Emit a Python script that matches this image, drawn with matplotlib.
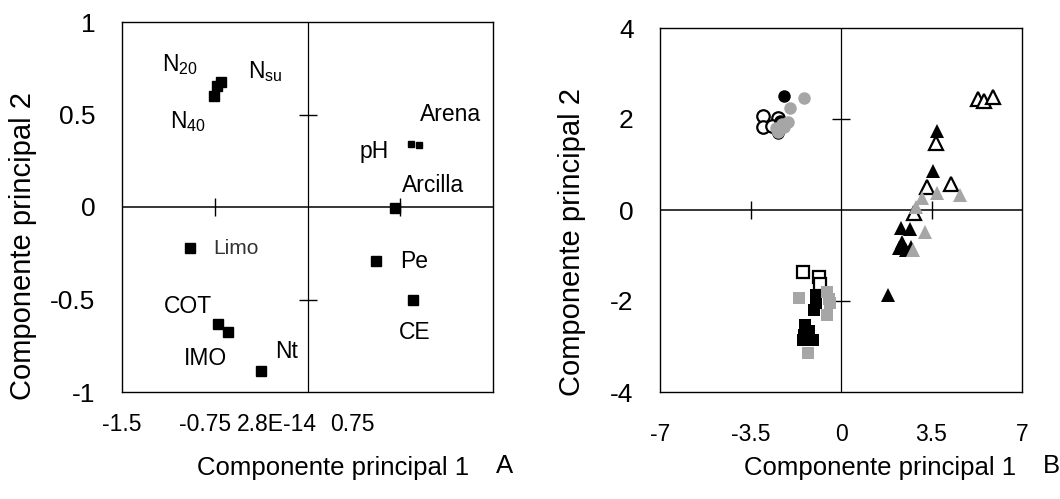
import matplotlib
matplotlib.use("Agg")
import matplotlib.pyplot as plt
import matplotlib.transforms as mtransforms

plt.rcParams['font.family'] = ['Liberation Sans', 'DejaVu Sans']
plt.rcParams['mathtext.fontset'] = 'custom'
plt.rcParams['mathtext.rm'] = 'Liberation Sans'

# ---------------- Panel A data (variable loadings) ----------------
var_names = ['N$_\\mathregular{20}$', 'N$_\\mathregular{su}$', 'N$_\\mathregular{40}$',
             'Arena', 'pH', 'Arcilla', 'Limo', 'Pe', 'CE', 'COT', 'IMO', 'Nt']
var_pc1 = [-0.73, -0.70, -0.76, 0.905, 0.84, 0.71, -0.95, 0.555, 0.85, -0.72, -0.64, -0.377]
var_pc2 = [0.654, 0.677, 0.60, 0.335, 0.339, -0.007, -0.22, -0.29, -0.50, -0.632, -0.674, -0.885]
small_marker = [False, False, False, True, True, False, False, False, False, False, False, False]

a_xticks = [-1.5, -0.75, 0.0, 0.75]
a_xticklabels = ['-1.5', '-0.75', '2.8E-14', '0.75']
a_yticks = [-1, -0.5, 0, 0.5, 1]
a_yticklabels = ['-1', '-0.5', '0', '0.5', '1']

# ---------------- Panel B data (sample scores) ----------------
circ_open_x = [-3.02, -3.00, -2.42, -2.65]
circ_open_y = [2.07, 1.83, 2.03, 1.85]
circ_black_x = [-2.22, -2.42, -2.35]
circ_black_y = [2.51, 1.70, 1.95]
circ_gray_x = [-1.42, -1.96, -2.30, -2.05, -2.45, -2.20, -2.50]
circ_gray_y = [2.47, 2.25, 1.88, 1.93, 1.72, 1.82, 1.80]

sq_open_x = [-1.46, -0.86, -0.80]
sq_open_y = [-1.37, -1.48, -1.62]
sq_black_x = [-0.97, -0.95, -1.05, -1.40, -1.42, -1.48, -1.10, -1.25]
sq_black_y = [-1.87, -2.05, -2.20, -2.53, -2.75, -2.85, -2.85, -2.65]
sq_gray_x = [-1.61, -0.55, -0.41, -0.53, -1.29, -0.45]
sq_gray_y = [-1.94, -1.80, -2.05, -2.31, -3.15, -1.95]

tri_open_x = [5.28, 5.52, 5.86, 3.67, 3.33, 4.25, 2.83]
tri_open_y = [2.43, 2.40, 2.48, 1.47, 0.51, 0.57, -0.07]
tri_black_x = [3.71, 3.57, 2.32, 2.68, 2.35, 2.26, 2.51, 2.71, 1.83]
tri_black_y = [1.74, 0.86, -0.39, -0.42, -0.70, -0.84, -0.88, -0.81, -1.87]
tri_gray_x = [3.71, 4.61, 3.12, 2.90, 3.26, 2.77]
tri_gray_y = [0.38, 0.34, 0.27, 0.07, -0.48, -0.88]

b_xticks = [-7, -3.5, 0, 3.5, 7]
b_xticklabels = ['-7', '-3.5', '0', '3.5', '7']
b_yticks = [-4, -2, 0, 2, 4]
b_yticklabels = ['-4', '-2', '0', '2', '4']

# label offsets (pixels) for panel A annotations
label_offsets = [(-37, 21), (44, 10), (-26, -26), (31, 31), (-37, -7), (38, 23),
                 (46, -1), (38, -1), (2, -33), (-31, 17), (-23, -27), (26, 19)]
# x tick label horizontal shifts in panel A (pixels)
a_label_shift = [0, -10, -31, -48]

GRAY = '#a6a6a6'
W, H = 1060, 499
fig = plt.figure(figsize=(W / 100, H / 100), dpi=100)

axA = fig.add_axes([122 / W, 1 - 392 / H, 371 / W, 370 / H])
axB = fig.add_axes([660 / W, 1 - 392 / H, 362 / W, 364 / H])


def setup(ax, xlim, ylim, xt, xtl, yt, ytl, xpad, ypad, xcross, ycross):
    ax.set_xlim(*xlim)
    ax.set_ylim(*ylim)
    ax.set_xticks(xt)
    ax.set_xticklabels(xtl)
    ax.set_yticks(yt)
    ax.set_yticklabels(ytl)
    ax.tick_params(axis='x', length=0, pad=xpad, labelsize=16.5)
    ax.tick_params(axis='y', length=0, pad=ypad, labelsize=19)
    for s in ax.spines.values():
        s.set_linewidth(1.0)
        s.set_color('black')
    ax.axhline(0, color='black', lw=1.1, zorder=1)
    ax.axvline(0, color='black', lw=0.9, zorder=1)
    # cross tick marks on the internal axes
    ax.plot(xcross, [0] * len(xcross), ls='none', marker='|', ms=13, mew=1.0,
            color='black', zorder=1)
    ax.plot([0] * len(ycross), ycross, ls='none', marker='_', ms=13, mew=1.0,
            color='black', zorder=1)


setup(axA, (-1.5, 1.5), (-1, 1), a_xticks, a_xticklabels, a_yticks, a_yticklabels,
      15, 19, [-0.75, 0.75], [-0.5, 0.5])
setup(axB, (-7, 7), (-4, 4), b_xticks, b_xticklabels, b_yticks, b_yticklabels,
      22, 19, [-3.5, 3.5], [-2, 2])

# shift A x tick labels
for lab, dx in zip(axA.get_xticklabels(), a_label_shift):
    off = mtransforms.ScaledTranslation(dx / 100, 0, fig.dpi_scale_trans)
    lab.set_transform(lab.get_transform() + off)

# Panel A points
for x, y, sm, name, (dx, dy) in zip(var_pc1, var_pc2, small_marker, var_names, label_offsets):
    axA.plot([x], [y], marker='s', ms=4 if sm else 7, color='black', ls='none', zorder=3)
    if name == 'Limo':
        col, fs = '#333333', 15
    else:
        col, fs = 'black', 16.5
    axA.annotate(name, (x, y), xytext=(dx, dy), textcoords='offset pixels',
                 ha='center', va='center', fontsize=fs, color=col)

# Panel B points
ms_b = 9
ms_t = 10.5
axB.plot(circ_open_x, circ_open_y, 'o', ms=ms_b, mfc='white', mec='black', mew=1.6, zorder=3)
axB.plot(sq_open_x, sq_open_y, 's', ms=ms_b, mfc='white', mec='black', mew=1.6, zorder=3)
axB.plot(tri_open_x, tri_open_y, '^', ms=ms_t, mfc='white', mec='black', mew=1.6, zorder=3)
axB.plot(circ_black_x, circ_black_y, 'o', ms=ms_b, color='black', mew=0, zorder=4)
axB.plot(sq_black_x, sq_black_y, 's', ms=ms_b, color='black', mew=0, zorder=4)
axB.plot(tri_black_x, tri_black_y, '^', ms=ms_t, color='black', mew=0, zorder=4)
axB.plot(circ_gray_x, circ_gray_y, 'o', ms=ms_b, color=GRAY, mew=0, zorder=5)
axB.plot(sq_gray_x, sq_gray_y, 's', ms=ms_b, color=GRAY, mew=0, zorder=5)
axB.plot(tri_gray_x, tri_gray_y, '^', ms=ms_t, color=GRAY, mew=0, zorder=5)

# Axis titles
fig.text(23 / W, 1 - 246 / H, 'Componente principal 2', rotation=90,
         ha='center', va='center', fontsize=21)
fig.text(572 / W, 1 - 242 / H, 'Componente principal 2', rotation=90,
         ha='center', va='center', fontsize=21)
fig.text(333 / W, 1 - 468 / H, 'Componente principal 1', ha='center', va='center', fontsize=18.5)
fig.text(505 / W, 1 - 466 / H, 'A', ha='center', va='center', fontsize=18.5)
fig.text(880 / W, 1 - 468 / H, 'Componente principal 1', ha='center', va='center', fontsize=18.5)
fig.text(1051 / W, 1 - 466 / H, 'B', ha='center', va='center', fontsize=18.5)

fig.savefig('out.png', dpi=100)
